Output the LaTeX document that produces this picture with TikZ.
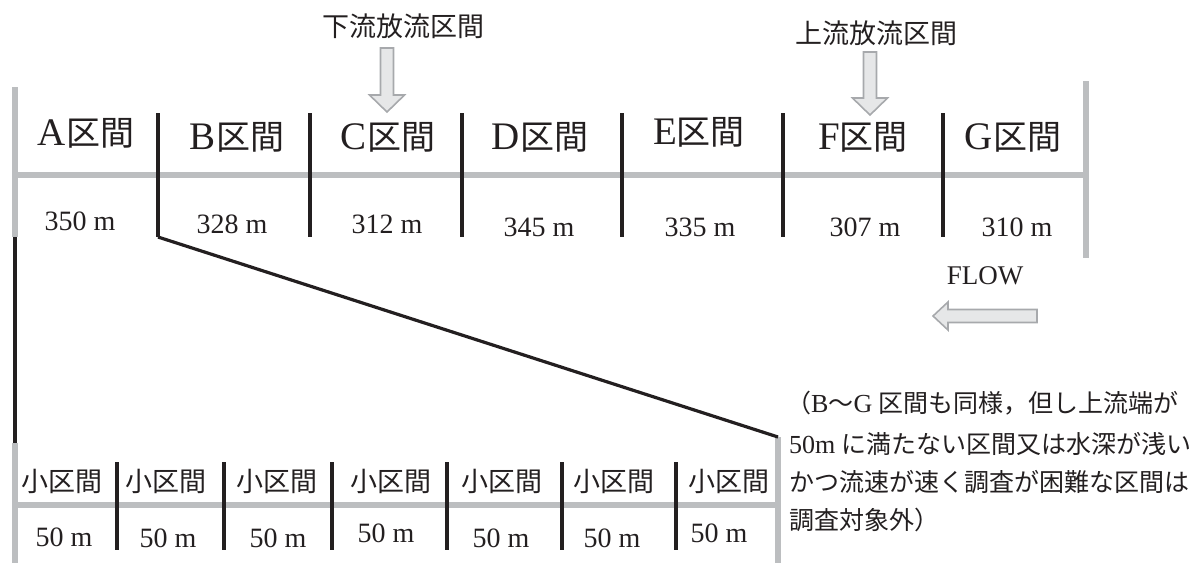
\documentclass[tikz,border=0pt]{standalone}
\usepackage{fontspec}
\setmainfont{Liberation Serif}
\newfontfamily\jp{Noto Sans CJK JP}
\definecolor{lgray}{HTML}{BCBEC0}
\definecolor{ink}{HTML}{231F20}
\definecolor{arrfill}{HTML}{E6E7E8}
\definecolor{arrline}{HTML}{A7A9AC}
\tikzset{
  grayline/.style={draw=lgray, line width=6pt},
  blackline/.style={draw=ink, line width=3.3pt},
  diagline/.style={draw=ink, line width=3.2pt},
  bigarrow/.style={draw=arrline, fill=arrfill, line width=1.6pt, line join=miter},
  seclabel/.style={inner sep=0pt, text=ink, font=\fontsize{34}{40}\selectfont},
  lenlabel/.style={inner sep=0pt, text=ink, font=\fontsize{28}{32}\selectfont},
  sublabel/.style={inner sep=0pt, text=ink, font=\fontsize{27}{32}\selectfont\jp},
  sublen/.style={inner sep=0pt, text=ink, font=\fontsize{28}{32}\selectfont},
  titlelabel/.style={inner sep=0pt, text=ink, font=\fontsize{27}{32}\selectfont\jp},
  notelabel/.style={inner sep=0pt, text=ink, anchor=west, font=\fontsize{25}{30}\selectfont},
}
\newcommand\Lat[1]{{\fontsize{39}{40}\selectfont #1}}
\newcommand\Nl[1]{{\fontsize{26}{30}\selectfont #1}}
\begin{document}
\begin{tikzpicture}[x=1pt,y=-1pt]
\useasboundingbox (0,0) rectangle (1195,563);
% coordinates
\coordinate (TLt) at (15,87);
\coordinate (TLm) at (15,237);
\coordinate (BLt) at (15,443);
\coordinate (BLb) at (15,563);
\coordinate (TH0) at (15,175);
\coordinate (TH1) at (1086,175);
\coordinate (TRt) at (1086,81);
\coordinate (TRb) at (1086,258);
\coordinate (BH0) at (15,505);
\coordinate (BH1) at (778,505);
\coordinate (BRt) at (778,437);
\coordinate (BRb) at (778,563);
\coordinate (Bbot) at (158,237);
% gray lines
\draw[grayline] (TLt) -- (TLm);
\draw[grayline] (TH0) -- (TH1);
\draw[grayline] (TRt) -- (TRb);
\draw[grayline] (BLt) -- (BLb);
\draw[grayline] (BH0) -- (BH1);
\draw[grayline] (BRt) -- (BRb);
% black connectors
\draw[blackline] (TLm) -- (BLt);
\draw[diagline] (Bbot) -- (BRt);
% top dividers
\foreach \n/\x in {B/158,C/310,D/462,E/622,F/783,G/943}{
  \coordinate (d\n t) at (\x,113);
  \coordinate (d\n b) at (\x,237);
  \draw[blackline] (d\n t) -- (d\n b);
}
% bottom dividers
\foreach \i/\x in {1/117,2/224,3/332,4/447,5/562,6/676}{
  \coordinate (s\i t) at (\x,462);
  \coordinate (s\i b) at (\x,550);
  \draw[blackline] (s\i t) -- (s\i b);
}
% section labels
\node[seclabel] (labA) at (86,133) {\Lat{A}{\jp 区間}};
\node[seclabel] (labB) at (237,137) {\Lat{B}{\jp 区間}};
\node[seclabel] (labC) at (388,137) {\Lat{C}{\jp 区間}};
\node[seclabel] (labD) at (540,137) {\Lat{D}{\jp 区間}};
\node[seclabel] (labE) at (699,132) {\Lat{E}{\jp 区間}};
\node[seclabel] (labF) at (863,137) {\Lat{F}{\jp 区間}};
\node[seclabel] (labG) at (1013,137) {\Lat{G}{\jp 区間}};
% lengths
\node[lenlabel] (lenA) at (80,221) {350 m};
\node[lenlabel] (lenB) at (232,224) {328 m};
\node[lenlabel] (lenC) at (387,224) {312 m};
\node[lenlabel] (lenD) at (539,227) {345 m};
\node[lenlabel] (lenE) at (700,227) {335 m};
\node[lenlabel] (lenF) at (865,227) {307 m};
\node[lenlabel] (lenG) at (1017,227) {310 m};
% sub sections
\foreach \i/\x in {1/62,2/166,3/277,4/391,5/502,6/614,7/729}{
  \node[sublabel] (sub\i) at (\x,481) {小区間};
}
\foreach \i/\x/\y in {1/64/537,2/168/538,3/278/538,4/386/533,5/501/538,6/612/538,7/719/533}{
  \node[sublen] (sublen\i) at (\x,\y) {50 m};
}
% discharge arrows
\node[titlelabel] (tdown) at (403,26) {下流放流区間};
\node[titlelabel] (tup) at (876,33) {上流放流区間};
\draw[bigarrow] (380.5,48) -- (380.5,95) -- (369.5,95) -- (387,112) -- (404.5,95) -- (393.5,95) -- (393.5,48) -- cycle;
\draw[bigarrow] (863.5,52) -- (863.5,98) -- (852.5,98) -- (870,115) -- (887.5,98) -- (876.5,98) -- (876.5,52) -- cycle;
% flow
\node[inner sep=0pt, text=ink, font=\fontsize{27}{32}\selectfont] (flow) at (985,276) {FLOW};
\draw[bigarrow] (1037,309.5) -- (948,309.5) -- (948,302) -- (933,316) -- (948,330) -- (948,322.5) -- (1037,322.5) -- cycle;
% note
\node[notelabel] (note1) at (786,403) {{\jp （}\Nl{B}{\jp ～}\Nl{G} {\jp 区間も同様，但し上流端が}};
\node[notelabel] (note2) at (789,444) {\Nl{50m} {\jp に満たない区間又は水深が浅い}};
\node[notelabel] (note3) at (789,482) {{\jp かつ流速が速く調査が困難な区間は}};
\node[notelabel] (note4) at (789,520) {{\jp 調査対象外）}};
\end{tikzpicture}
\end{document}
